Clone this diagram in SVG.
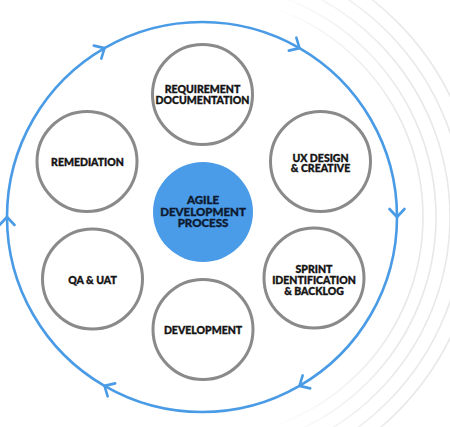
<svg xmlns="http://www.w3.org/2000/svg" width="450" height="427" viewBox="0 0 450 427">
  <style>
    .bg-arc { fill: none; stroke: url(#fade); stroke-width: 1.6; }
    .cycle { fill: none; stroke: #4a9be6; stroke-width: 2.6; }
    .step { fill: #ffffff; stroke: #8a8a8a; stroke-width: 3; }
    .hub { fill: #4a9be8; stroke: none; }
    .lbl { font-family: Lato, "Open Sans", "Liberation Sans", sans-serif; font-weight: 900; font-size: 10.5px; fill: #141414; stroke: #141414; stroke-width: 0.35; text-anchor: middle; }
    .hub-lbl { font-family: Lato, "Open Sans", "Liberation Sans", sans-serif; font-weight: 900; font-size: 11.5px; fill: #0e1a30; stroke: #0e1a30; stroke-width: 0.35; text-anchor: middle; }
  </style>
  <defs>
    <linearGradient id="fade" gradientUnits="userSpaceOnUse" x1="270" y1="0" x2="400" y2="0">
      <stop offset="0" stop-color="#e8e8e8" stop-opacity="0"/>
      <stop offset="1" stop-color="#e8e8e8" stop-opacity="1"/>
    </linearGradient>
    <marker id="chev" markerUnits="userSpaceOnUse" markerWidth="20" markerHeight="20" refX="0" refY="0" orient="auto" overflow="visible" viewBox="-10 -10 20 20">
      <path d="M -8,-7.5 L 0,0 L -8,7.5" fill="none" stroke="#4a9be6" stroke-width="2.6" stroke-linecap="round" stroke-linejoin="round"/>
    </marker>
  </defs>
  <rect width="450" height="427" fill="#ffffff"/>

  <g id="background-arcs">
    <circle class="bg-arc" cx="202" cy="217" r="221"/>
    <circle class="bg-arc" cx="202" cy="217" r="234"/>
    <circle class="bg-arc" cx="202" cy="217" r="248"/>
    <circle class="bg-arc" cx="202" cy="217" r="262"/>
    <circle class="bg-arc" cx="202" cy="217" r="276"/>
  </g>

  <g id="connectors">
    <path class="cycle" d="M 7,217 A 195,195 0 0 1 104.5,48.13" marker-end="url(#chev)"/>
    <path class="cycle" d="M 104.5,48.13 A 195,195 0 0 1 299.5,48.13" marker-end="url(#chev)"/>
    <path class="cycle" d="M 299.5,48.13 A 195,195 0 0 1 397,217" marker-end="url(#chev)"/>
    <path class="cycle" d="M 397,217 A 195,195 0 0 1 299.5,385.87" marker-end="url(#chev)"/>
    <path class="cycle" d="M 299.5,385.87 A 195,195 0 0 1 104.5,385.87" marker-end="url(#chev)"/>
    <path class="cycle" d="M 104.5,385.87 A 195,195 0 0 1 7,217" marker-end="url(#chev)"/>
  </g>

  <g id="node-requirement">
    <circle class="step" cx="202.5" cy="94.5" r="50"/>
    <text class="lbl" x="202.5" y="92.5">REQUIREMENT</text>
    <text class="lbl" x="202.5" y="104">DOCUMENTATION</text>
  </g>
  <g id="node-ux">
    <circle class="step" cx="320.5" cy="161.5" r="50"/>
    <text class="lbl" x="320.5" y="161.5">UX DESIGN</text>
    <text class="lbl" x="320.5" y="172">&amp; CREATIVE</text>
  </g>
  <g id="node-sprint">
    <circle class="step" cx="314" cy="278" r="50"/>
    <text class="lbl" x="314" y="272.5">SPRINT</text>
    <text class="lbl" x="314" y="284">IDENTIFICATION</text>
    <text class="lbl" x="314" y="295">&amp; BACKLOG</text>
  </g>
  <g id="node-development">
    <circle class="step" cx="203" cy="329.5" r="50"/>
    <text class="lbl" x="203" y="334">DEVELOPMENT</text>
  </g>
  <g id="node-qa">
    <circle class="step" cx="92.5" cy="279" r="50"/>
    <text class="lbl" x="92.5" y="284">QA &amp; UAT</text>
  </g>
  <g id="node-remediation">
    <circle class="step" cx="87" cy="161.5" r="50"/>
    <text class="lbl" x="87.5" y="165.5">REMEDIATION</text>
  </g>
  <g id="node-hub">
    <circle class="hub" cx="203" cy="212" r="50"/>
    <text class="hub-lbl" x="203" y="204">AGILE</text>
    <text class="hub-lbl" x="203" y="215.5">DEVELOPMENT</text>
    <text class="hub-lbl" x="203" y="227">PROCESS</text>
  </g>
</svg>
